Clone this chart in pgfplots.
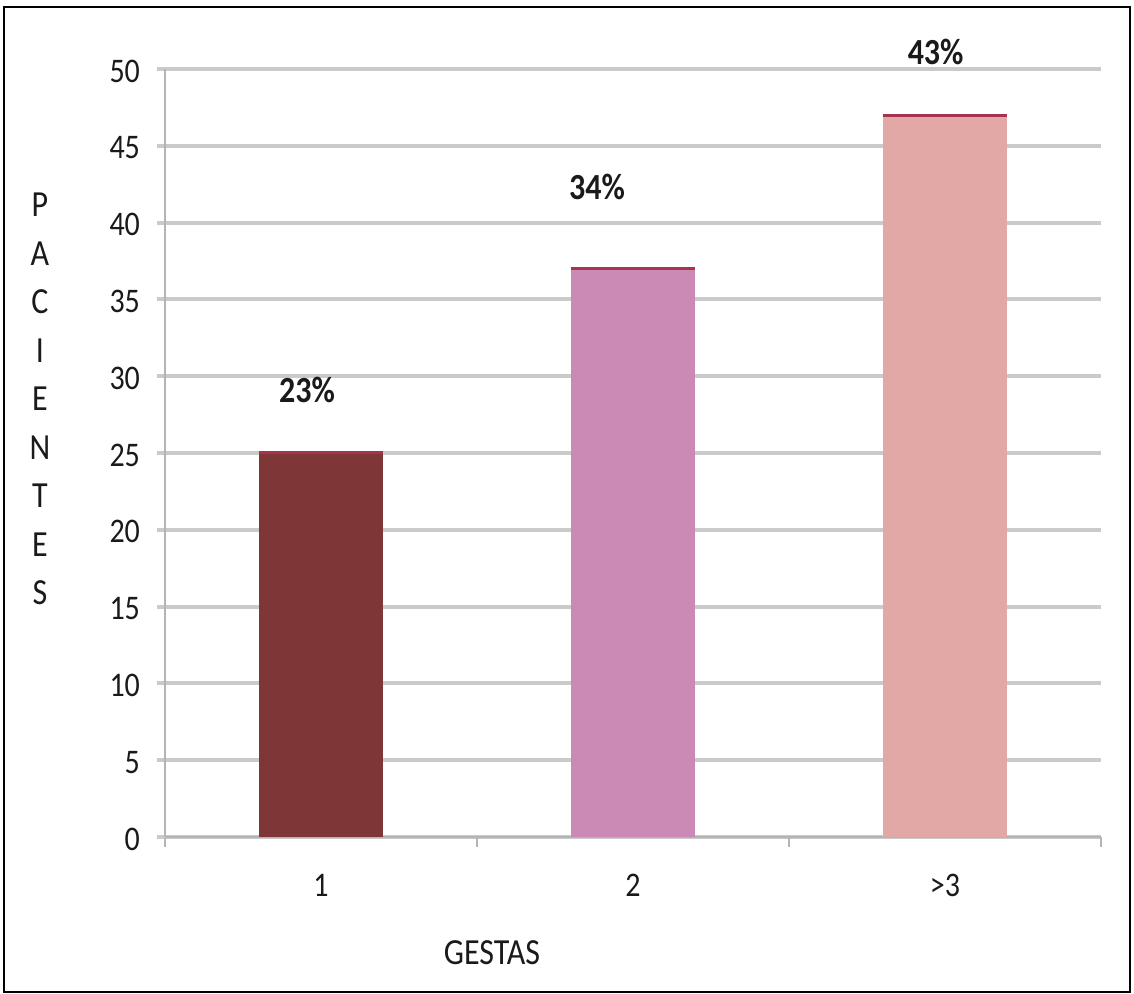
\documentclass[border=0pt]{standalone}
\usepackage{pgfplots}
\pgfplotsset{compat=1.18}
\usepackage{fontspec}
\setmainfont{Carlito}
\definecolor{barA}{HTML}{7F3636}
\definecolor{barB}{HTML}{CB89B6}
\definecolor{barC}{HTML}{E1A8A6}
\definecolor{topline}{HTML}{A8334F}
\definecolor{gridgray}{HTML}{CACACA}
\definecolor{axisgray}{HTML}{B4B4B4}
\definecolor{txt}{HTML}{1A1A1A}
\newcommand{\tall}[1]{\scalebox{1}[1.15]{#1}}

\begin{document}
\begin{tikzpicture}[x=1pt,y=1pt]
\useasboundingbox (-82.5,-78.5) rectangle (484.5,418.5);
\draw[line width=1.2pt] (-80.5,-77.5) rectangle (482.5,415);
\begin{axis}[
  width=468pt, height=384pt, scale only axis,
  xmin=0.5, xmax=3.5, ymin=0, ymax=50,
  clip=false,
  axis x line=bottom, axis y line=left,
  axis line style={-, axisgray, line width=1.2pt},
  xtick={1,2,3}, xticklabels={\tall{1},\tall{2},\tall{>3}},
  major x tick style={draw=none},
  minor xtick={0.5,1.5,2.5,3.5},
  minor x tick style={axisgray, line width=1.2pt},
  minor tick length=5pt,
  ytick={0,5,...,50},
  yticklabel={\tall{\pgfmathprintnumber{\tick}}},
  y tick style={gridgray, line width=2pt},
  major tick length=4pt,
  tick align=outside,
  ymajorgrids,
  grid style={gridgray, line width=2pt},
  /pgf/number format/assume math mode=true,
  yticklabel style={font=\fontsize{15}{15}\selectfont, text=txt, xshift=-5pt, yshift=-1pt},
  xticklabel style={font=\fontsize{15}{15}\selectfont, text=txt, yshift=-11pt},
]
\addplot[ybar, bar width=62pt, bar shift=0pt, fill=barA, draw=none,
  error bars/.cd, y dir=plus, y explicit, error mark=|,
  error mark options={topline, line width=1.5pt, mark size=31pt}]
  coordinates {(1,25) +- (0,0)};
\addplot[ybar, bar width=62pt, bar shift=0pt, fill=barB, draw=none,
  error bars/.cd, y dir=plus, y explicit, error mark=|,
  error mark options={topline, line width=1.5pt, mark size=31pt}]
  coordinates {(2,37) +- (0,0)};
\addplot[ybar, bar width=62pt, bar shift=0pt, fill=barC, draw=none,
  error bars/.cd, y dir=plus, y explicit, error mark=|,
  error mark options={topline, line width=1.5pt, mark size=31pt}]
  coordinates {(3,47) +- (0,0)};
\node[font=\bfseries\fontsize{16}{16}\selectfont, text=txt] at (axis cs:0.955,29.1) {\tall{23\%}};
\node[font=\bfseries\fontsize{16}{16}\selectfont, text=txt] at (axis cs:1.885,42.3) {\tall{34\%}};
\node[font=\bfseries\fontsize{16}{16}\selectfont, text=txt] at (axis cs:2.97,51.1) {\tall{43\%}};
\end{axis}
\node[font=\fontsize{16}{16}\selectfont, text=txt] at (163.5,-58) {\tall{GESTAS}};
\foreach \l [count=\i] in {P,A,C,I,E,N,T,E,S}
  \node[font=\fontsize{16}{16}\selectfont, text=txt] at (-62.5, {316-(\i-1)*24.25}) {\tall{\l}};
\end{tikzpicture}
\end{document}
